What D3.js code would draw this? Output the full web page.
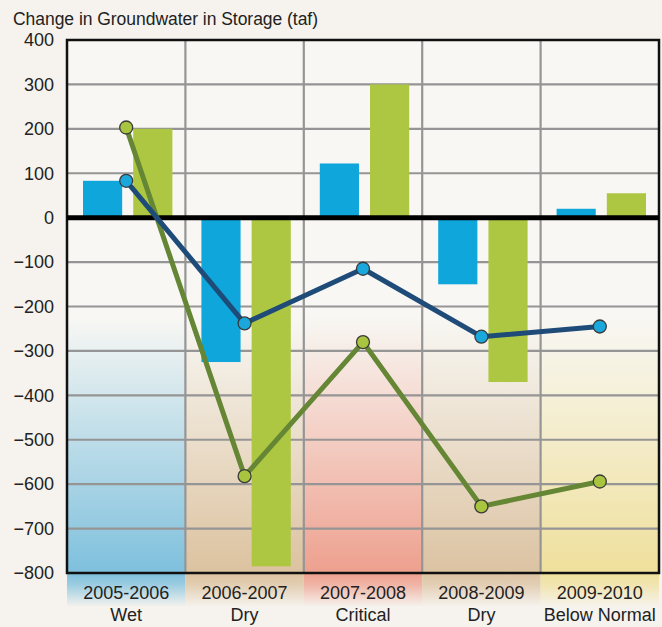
<!DOCTYPE html>
<html>
<head>
<meta charset="utf-8">
<script src="https://cdn.jsdelivr.net/npm/d3@7"></script>
<style>
  body { margin: 0; background: #f6f3ee; }
  svg text { font-family: "Liberation Sans", Arial, sans-serif; fill: #222; }
</style>
</head>
<body>
<div class="chart"></div>
<script>
// data
const years = ["2005-2006", "2006-2007", "2007-2008", "2008-2009", "2009-2010"];
const yearTypes = ["Wet", "Dry", "Critical", "Dry", "Below Normal"];
const bandColors = ["#7ec0dd", "#dcc29f", "#eea08e", "#dcc3a2", "#efe09c"];
const blueBars = [83, -325, 122, -150, 20];
const greenBars = [200, -785, 300, -370, 55];
const blueLine = [83, -238, -115, -268, -245];
const greenLine = [203, -582, -280, -650, -594];
const yTicks = [400, 300, 200, 100, 0, -100, -200, -300, -400, -500, -600, -700, -800];

const W = 662, H = 627;
const margin = {top: 40, right: 3, bottom: 54, left: 67};
const width = W - margin.left - margin.right,
      height = H - margin.top - margin.bottom;

const svg = d3.select(".chart").append("svg")
    .attr("width", W).attr("height", H);

const defs = svg.append("defs");

let x = d3.scaleBand().domain(years).range([0, width]);
let sub = d3.scaleBand().domain(["blue", "green"])
    .range([16, x.bandwidth() - 13]).paddingInner(0.22);
let y = d3.scaleLinear().domain([-800, 400]).range([height, 0]);

// column gradients
bandColors.forEach(function(c, i) {
  let g = defs.append("linearGradient").attr("id", "col" + i)
      .attr("x1", 0).attr("x2", 0).attr("y1", 0).attr("y2", 1);
  g.append("stop").attr("offset", "0%").attr("stop-color", "#f8f7f3");
  g.append("stop").attr("offset", "52%").attr("stop-color", "#f8f7f3");
  g.append("stop").attr("offset", "100%").attr("stop-color", c);
  let l = defs.append("linearGradient").attr("id", "lab" + i)
      .attr("x1", 0).attr("x2", 0).attr("y1", 0).attr("y2", 1);
  l.append("stop").attr("offset", "0%").attr("stop-color", c);
  l.append("stop").attr("offset", "35%").attr("stop-color", c).attr("stop-opacity", 0.75);
  l.append("stop").attr("offset", "100%").attr("stop-color", c).attr("stop-opacity", 0);
});

svg.append("text")
    .attr("x", 13).attr("y", 25)
    .attr("textLength", 305)
    .style("font-size", "17.5px")
    .text("Change in Groundwater in Storage (taf)");

const plot = svg.append("g")
    .attr("transform", "translate(" + margin.left + "," + margin.top + ")");

// backgrounds
plot.selectAll(".colbg").data(years).enter().append("rect")
    .attr("x", d => x(d)).attr("y", 0)
    .attr("width", x.bandwidth()).attr("height", height)
    .attr("fill", (d, i) => "url(#col" + i + ")");

plot.selectAll(".labbg").data(years).enter().append("rect")
    .attr("x", d => x(d)).attr("y", height)
    .attr("width", x.bandwidth()).attr("height", 34)
    .attr("fill", (d, i) => "url(#lab" + i + ")");

// grid
plot.append("g").selectAll("line").data(yTicks).enter().append("line")
    .attr("x1", 0).attr("x2", width)
    .attr("y1", d => y(d)).attr("y2", d => y(d))
    .attr("stroke", "#959595").attr("stroke-width", 2.2);

plot.append("g").selectAll("line").data(years.slice(1)).enter().append("line")
    .attr("x1", d => x(d)).attr("x2", d => x(d))
    .attr("y1", 0).attr("y2", height)
    .attr("stroke", "#959595").attr("stroke-width", 2.2);

// bars
function bars(vals, key, color) {
  plot.append("g").selectAll("rect").data(vals).enter().append("rect")
      .attr("x", (d, i) => x(years[i]) + sub(key))
      .attr("width", sub.bandwidth())
      .attr("y", d => y(Math.max(0, d)))
      .attr("height", d => Math.abs(y(d) - y(0)))
      .attr("fill", color);
}
bars(blueBars, "blue", "#0fa7db");
bars(greenBars, "green", "#adc742");

// frame and zero line
plot.append("rect")
    .attr("x", 0).attr("y", 0).attr("width", width).attr("height", height)
    .attr("fill", "none").attr("stroke", "#111").attr("stroke-width", 2.5);

plot.append("line")
    .attr("x1", 0).attr("x2", width)
    .attr("y1", y(0)).attr("y2", y(0))
    .attr("stroke", "#000").attr("stroke-width", 5);

// y axis labels
let yAxis = plot.append("g")
    .call(d3.axisLeft(y).tickValues(yTicks).tickSize(0).tickPadding(13));
yAxis.select(".domain").remove();
yAxis.selectAll("text")
    .style("font-size", "18px")
    .attr("fill", "#222");

// x labels
let xl = plot.append("g").selectAll("g").data(years).enter().append("g")
    .attr("transform", d => "translate(" + (x(d) + x.bandwidth() / 2) + "," + height + ")");
xl.append("text").attr("y", 26).attr("text-anchor", "middle")
    .style("font-size", "18px").text(d => d);
xl.append("text").attr("y", 48).attr("text-anchor", "middle")
    .style("font-size", "18px").text((d, i) => yearTypes[i]);

// lines
function series(vals, stroke, fill) {
  let cx = (d, i) => x(years[i]) + x.bandwidth() / 2;
  plot.append("path")
      .datum(vals)
      .attr("fill", "none")
      .attr("stroke", stroke)
      .attr("stroke-width", 5)
      .attr("stroke-linejoin", "round")
      .attr("d", d3.line().x(cx).y(d => y(d)));
  plot.append("g").selectAll("circle").data(vals).enter().append("circle")
      .attr("cx", cx).attr("cy", d => y(d)).attr("r", 6.5)
      .attr("fill", fill).attr("stroke", "#3a3a3a").attr("stroke-width", 1.3);
}
series(greenLine, "#658634", "#a9c43e");
series(blueLine, "#1f4b78", "#1aa8dc");
</script>
</body>
</html>
